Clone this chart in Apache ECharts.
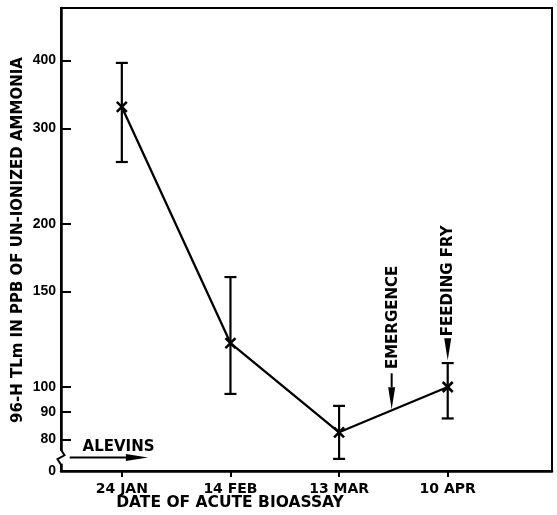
<!DOCTYPE html>
<html><head><meta charset="utf-8">
<script src="https://cdn.jsdelivr.net/npm/echarts@6/dist/echarts.min.js"></script>
<style>html,body{margin:0;padding:0;background:#fff}#c{width:557px;height:515px}</style>
</head><body><div id="c"></div>
<script>
// ---- data ----
const categories = ['24 JAN', '14 FEB', '13 MAR', '10 APR'];
const catPos = [0, 1, 2, 3];
const tlmValues = [328.5, 120.5, 82.5, 100];
const upperValues = [396, 159.5, 92.3, 110.7];
const lowerValues = [260, 97.1, 73.7, 87.5];
const yTickValues = [70, 80, 90, 100, 150, 200, 300, 400];
const yTickLabels = ['0', '80', '90', '100', '150', '200', '300', '400'];
const arrows = [
  [-0.48, 74.1, 0.24, 74.1],
  [2.484, 106, 2.484, 91],
  [3, 123, 3, 112]
];
const noteTexts = ['ALEVINS', 'EMERGENCE', 'FEEDING FRY'];
const noteX = [-0.03, 2.493, 3];
const noteY = [77.4, 134.4, 157];
const noteRotate = [0, 90, 90];
const breakMarkY = [76.3, 72.2];

const FONT = '"DejaVu Sans", sans-serif';
const chart = echarts.init(document.getElementById('c'));

const lineData = catPos.map((x, i) => [x, tlmValues[i]]);
const errData = catPos.map((x, i) => [x, tlmValues[i], lowerValues[i], upperValues[i]]);

chart.setOption({
  animation: false,
  backgroundColor: '#fff',
  grid: { left: 61, right: 5, top: 8, bottom: 44, show: true, borderColor: '#000', borderWidth: 2 },
  xAxis: {
    type: 'value', min: -0.56, max: 3.96,
    axisLine: { onZero: false, lineStyle: { color: '#000', width: 2.5 } },
    axisTick: { customValues: catPos, length: 6, inside: false, lineStyle: { color: '#000', width: 2 } },
    axisLabel: { customValues: catPos, formatter: v => categories[Math.round(v)], margin: 11,
      color: '#000', fontFamily: FONT, fontWeight: 'bold', fontSize: 14 },
    splitLine: { show: false }
  },
  yAxis: {
    type: 'log', logBase: 10, min: 70, max: 500,
    axisLine: { onZero: false, lineStyle: { color: '#000', width: 2.5 } },
    axisTick: { customValues: yTickValues.slice(1), length: 10, inside: true, lineStyle: { color: '#000', width: 2 } },
    axisLabel: { customValues: yTickValues, margin: 5, color: '#000', fontFamily: '"Liberation Sans", Arial, sans-serif', fontWeight: 'bold', fontSize: 14,
      formatter: v => {
        let best = 0;
        yTickValues.forEach((t, i) => { if (Math.abs(t - v) < Math.abs(yTickValues[best] - v)) best = i; });
        return yTickLabels[best];
      } },
    splitLine: { show: false }
  },
  graphic: [
    { type: 'text', x: 18, y: 240, rotation: Math.PI / 2,
      style: { text: '96-H TLm IN PPB OF UN-IONIZED AMMONIA', fill: '#000', font: 'bold 15px ' + FONT, textAlign: 'center', textVerticalAlign: 'middle' } },
    { type: 'text', x: 230, y: 503,
      style: { text: 'DATE OF ACUTE BIOASSAY', fill: '#000', font: 'bold 15.5px ' + FONT, textAlign: 'center', textVerticalAlign: 'middle' } }
  ],
  series: [
    { type: 'line', data: lineData, symbol: 'none', lineStyle: { color: '#000', width: 2.3 }, z: 3 },
    { type: 'custom', data: errData, z: 4,
      renderItem: (params, api) => {
        const x = api.value(0);
        const c = api.coord([x, api.value(1)]);
        const lo = api.coord([x, api.value(2)]);
        const hi = api.coord([x, api.value(3)]);
        const st = { stroke: '#000', lineWidth: 2.2 };
        const cw = 6, m = 5;
        return { type: 'group', children: [
          { type: 'line', shape: { x1: hi[0], y1: hi[1], x2: lo[0], y2: lo[1] }, style: st },
          { type: 'line', shape: { x1: hi[0] - cw, y1: hi[1], x2: hi[0] + cw, y2: hi[1] }, style: st },
          { type: 'line', shape: { x1: lo[0] - cw, y1: lo[1], x2: lo[0] + cw, y2: lo[1] }, style: st },
          { type: 'line', shape: { x1: c[0] - m, y1: c[1] - m, x2: c[0] + m, y2: c[1] + m }, style: { stroke: '#000', lineWidth: 2.5 } },
          { type: 'line', shape: { x1: c[0] - m, y1: c[1] + m, x2: c[0] + m, y2: c[1] - m }, style: { stroke: '#000', lineWidth: 2.5 } }
        ] };
      } },
    { type: 'custom', data: arrows, z: 5, clip: false,
      renderItem: (params, api) => {
        const p1 = api.coord([api.value(0), api.value(1)]);
        const p2 = api.coord([api.value(2), api.value(3)]);
        const dx = p2[0] - p1[0], dy = p2[1] - p1[1];
        const len = Math.sqrt(dx * dx + dy * dy);
        const ux = dx / len, uy = dy / len;
        const hl = Math.min(22, len), hw = 3.5;
        const bx = p2[0] - ux * hl, by = p2[1] - uy * hl;
        return { type: 'group', children: [
          { type: 'line', shape: { x1: p1[0], y1: p1[1], x2: bx, y2: by }, style: { stroke: '#000', lineWidth: 2 } },
          { type: 'polygon', shape: { points: [[p2[0], p2[1]], [bx - uy * hw, by + ux * hw], [bx + uy * hw, by - ux * hw]] }, style: { fill: '#000' } }
        ] };
      } },
    { type: 'custom', data: noteTexts.map((t, i) => [noteX[i], noteY[i], i]), z: 6, clip: false,
      renderItem: (params, api) => {
        const i = params.dataIndex;
        const p = api.coord([api.value(0), api.value(1)]);
        return { type: 'text', x: p[0], y: p[1], rotation: noteRotate[i] * Math.PI / 180,
          style: { text: noteTexts[i], fill: '#000', font: 'bold 15px ' + FONT, textAlign: 'center', textVerticalAlign: 'middle' } };
      } },
    { type: 'custom', data: [[-0.56, breakMarkY[0], breakMarkY[1]]], z: 7, clip: false,
      renderItem: (params, api) => {
        const a = api.coord([api.value(0), api.value(1)]);
        const b = api.coord([api.value(0), api.value(2)]);
        const x = a[0];
        const h = b[1] - a[1];
        return { type: 'group', children: [
          { type: 'rect', shape: { x: x - 3, y: a[1], width: 6, height: h }, style: { fill: '#fff' } },
          { type: 'polyline', shape: { points: [[x, a[1] - 1], [x + 3.5, a[1] + h * 0.35], [x - 3.5, a[1] + h * 0.65], [x, b[1] + 1]] },
            style: { stroke: '#000', lineWidth: 2, fill: null } }
        ] };
      } }
  ]
});
</script></body></html>
